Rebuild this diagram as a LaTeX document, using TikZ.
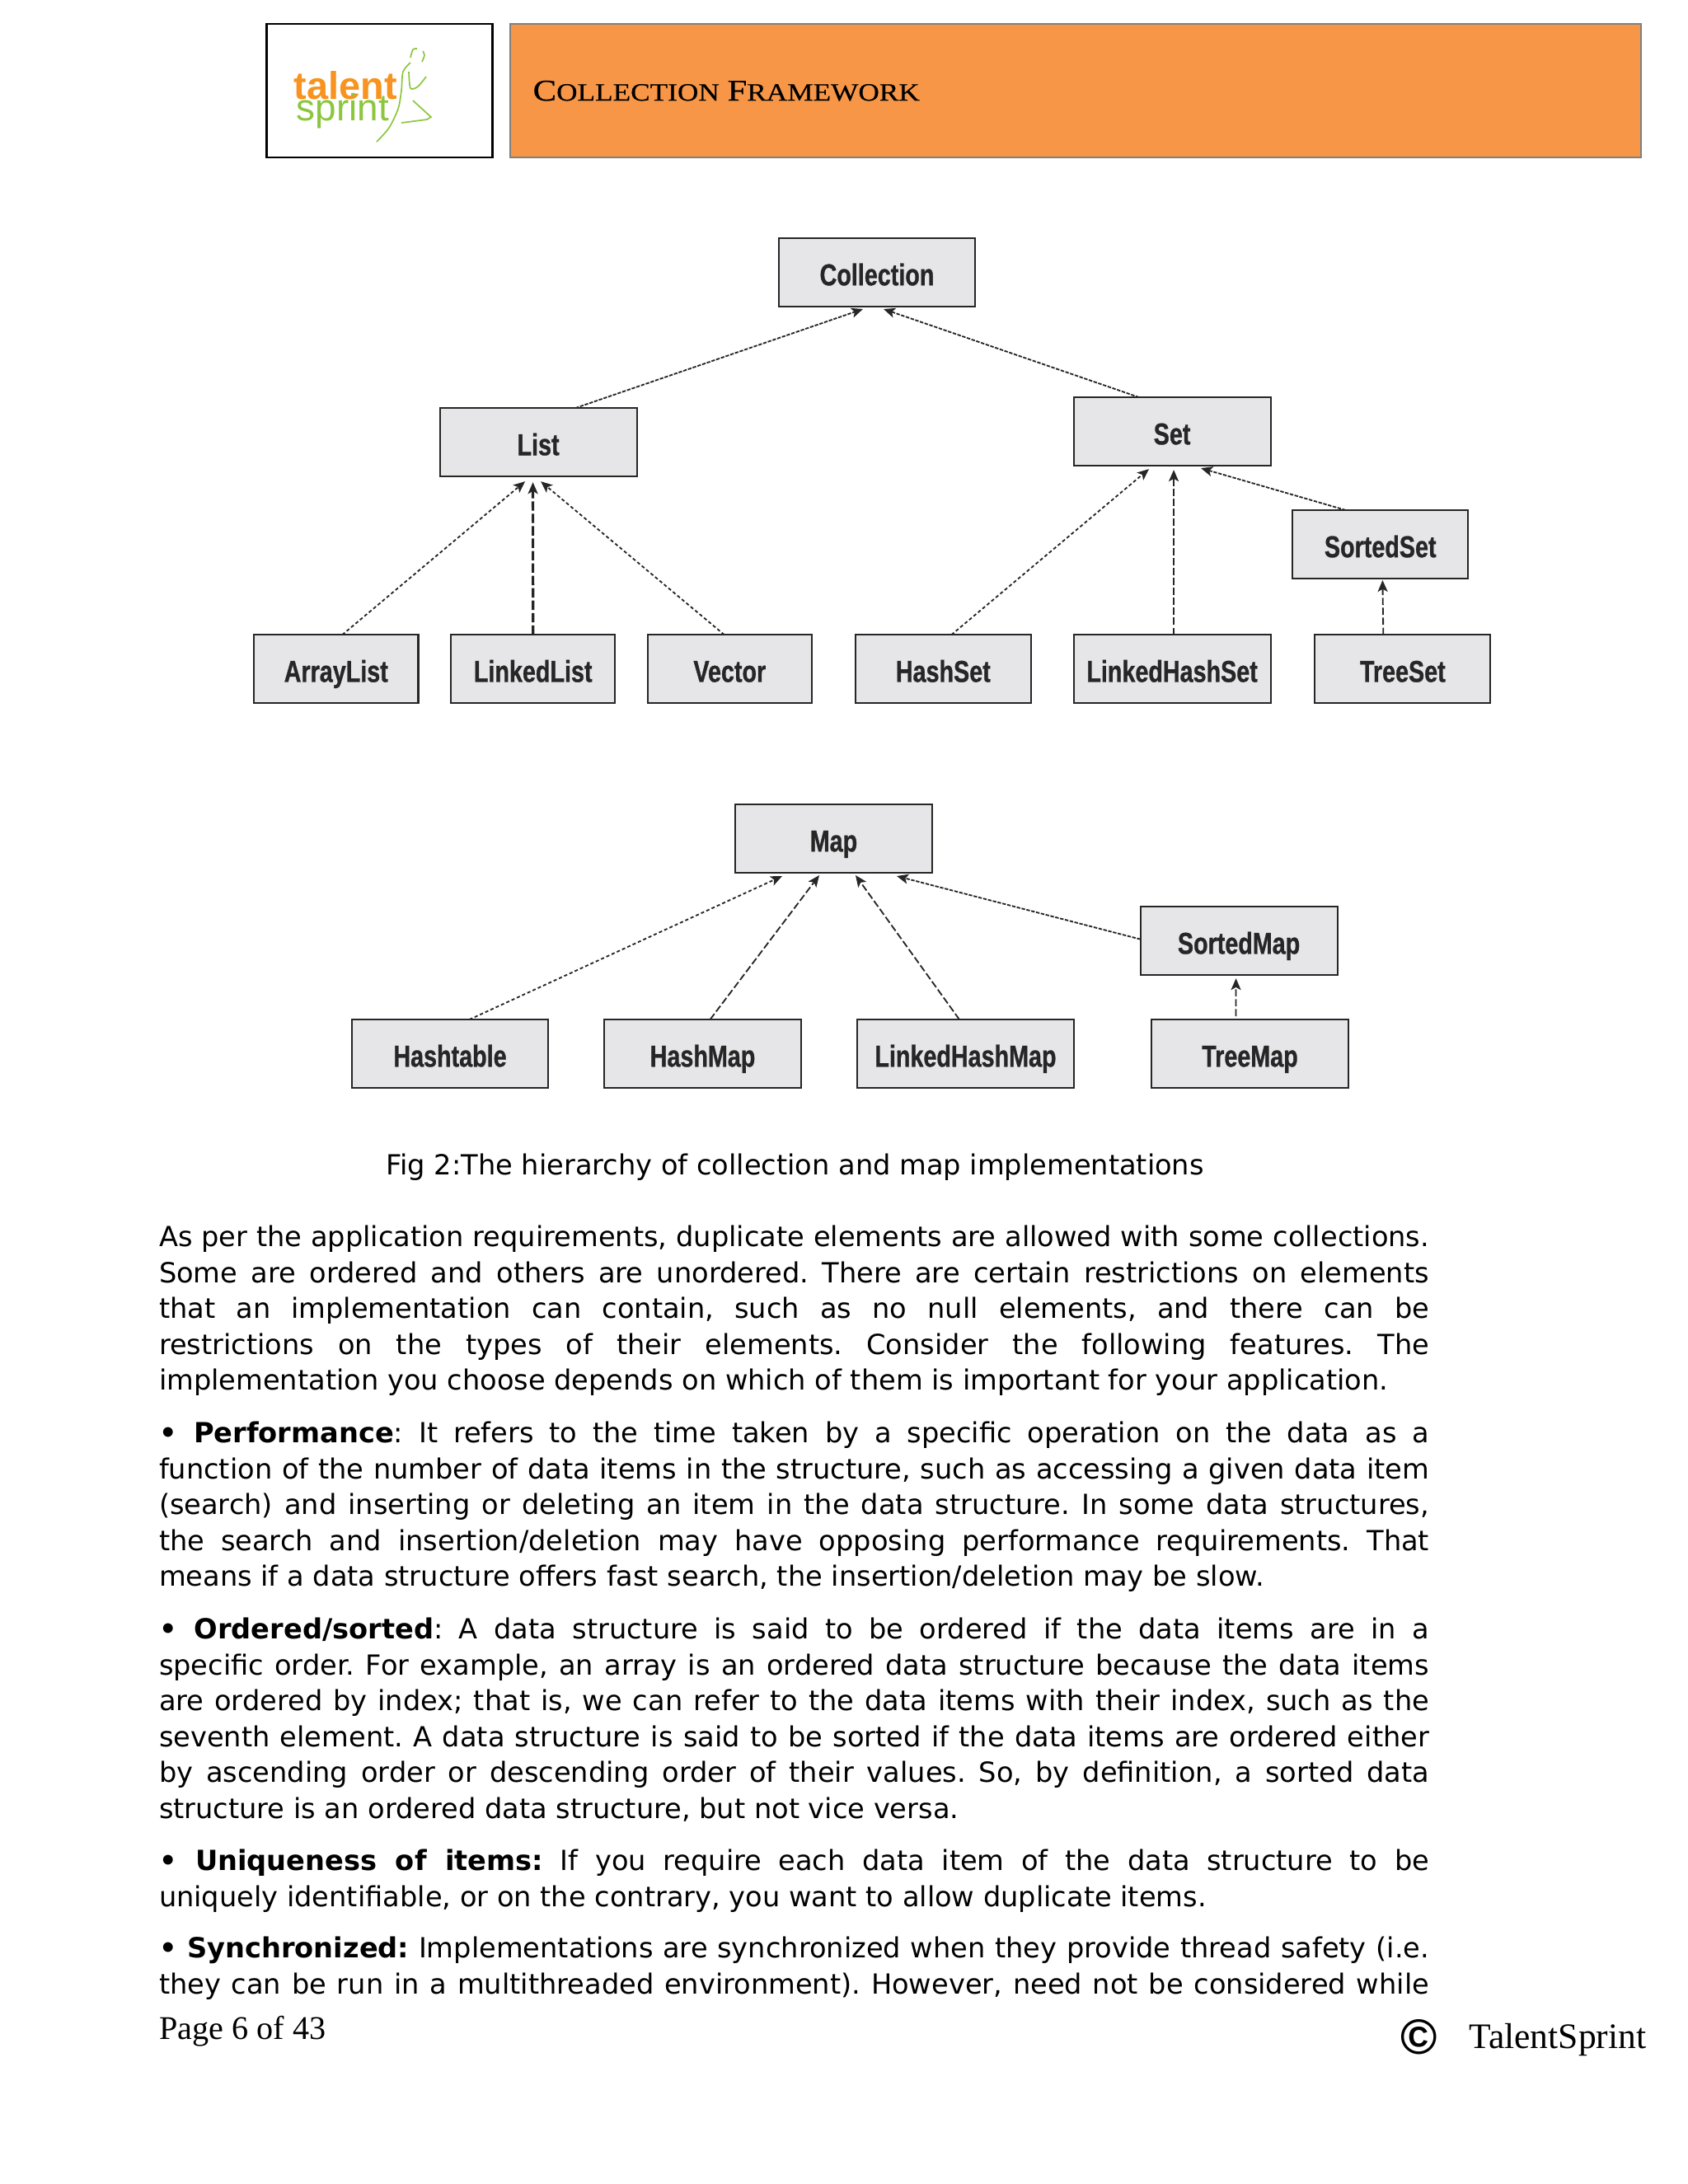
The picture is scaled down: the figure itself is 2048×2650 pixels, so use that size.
\documentclass[tikz,border=0pt]{standalone}
\usepackage{fontspec}
\usepackage{xcolor}
\usetikzlibrary{arrows.meta,positioning,calc}
\setmainfont{DejaVu Sans}
\newfontfamily\serifface{Liberation Serif}
\newfontfamily\logoface{Liberation Sans}
\newfontfamily\boxface[FakeStretch=0.78,BoldFeatures={FakeBold=0.8}]{Liberation Sans}
\newfontfamily\titleface[FakeStretch=1.17,FakeBold=0.6]{Liberation Serif}
\definecolor{headorange}{HTML}{F79646}
\definecolor{boxgrey}{HTML}{E6E5E8}
\definecolor{logoorange}{HTML}{F7931E}
\definecolor{logogreen}{HTML}{8CC63F}
\newcommand{\titlecaps}[2]{{\fontsize{10.9}{12}\selectfont #1}{\fontsize{9}{12}\selectfont #2}}
\frenchspacing

\begin{document}
\begin{tikzpicture}[
  x=0.29883pt,y=-0.29883pt,
  cls/.style={draw=black!85,line width=0.6pt,fill=boxgrey,minimum height=24.8pt,inner sep=0pt,outer sep=0pt,text height=11pt,text depth=1.6pt,font=\boxface\bfseries\fontsize{11}{12}\selectfont,text=black!85},
  wide/.style={cls,minimum width=71.4pt},
  mid/.style={cls,minimum width=63.6pt},
  narrow/.style={cls,minimum width=59.6pt},
  para/.style={text width=460.5pt,align=justify,inner sep=0pt,outer sep=0pt,font=\fontsize{10.05}{13}\selectfont},
  arr/.style={-{Stealth[length=4.2pt,width=3.6pt,inset=1pt]},line width=0.55pt,draw=black!85,dash pattern=on 1.3pt off 0.5pt},
  dotarr/.style={arr,dash pattern=on 1.2pt off 0.9pt},
  longarr/.style={arr,dash pattern=on 2.6pt off 1pt},
  heavyarr/.style={arr,line width=0.95pt,dash pattern=on 3.4pt off 1.1pt}
]
\useasboundingbox (0,0) rectangle (2048,2650);

% header
\node[draw=black,line width=0.8pt,fill=white,minimum width=82pt,minimum height=48.4pt,inner sep=0pt] (logobox) at (460.5,110) {};
\node[draw=black!50,line width=0.7pt,fill=headorange,minimum width=409.8pt,minimum height=48.4pt,inner sep=0pt] (head) at (1305,110) {};
\node[anchor=base west,inner sep=0pt] (title) at (646,122) {\titleface\titlecaps{C}{OLLECTION} \titlecaps{F}{RAMEWORK}};
\node[anchor=base west,inner sep=0pt,text=logoorange,font=\logoface\bfseries\fontsize{14}{14}\selectfont] (talent) at (356,120) {talent};
\node[anchor=base west,inner sep=0pt,text=logogreen,font=\logoface\fontsize{13.7}{14}\selectfont] (sprint) at (359,146) {sprint};
\draw[logogreen,line width=0.5pt] plot[smooth] coordinates {(457,172) (472,155) (483,132) (487,110) (489,87) (498,76)};
\draw[logogreen,line width=0.5pt] plot[smooth] coordinates {(498,70) (501,60) (506,59)};
\draw[logogreen,line width=0.5pt] plot[smooth] coordinates {(512,75) (515,67) (513,62)};
\draw[logogreen,line width=0.5pt] plot[smooth] coordinates {(496,87) (498,107) (507,105) (517,93)};
\draw[logogreen,line width=0.5pt] (501,122) -- (523,142) -- (518,145) -- (487,149);

% collection tree
\node[wide] (collection) at (1064,330.5) {Collection};
\node[wide,below left=36.8pt and 51.4pt of collection] (list) {List};
\node[wide,below right=32.9pt and 35.6pt of collection] (set) {Set};
\node[narrow,below=57.4pt of list,xshift=-1.9pt] (linkedlist) {LinkedList};
\node[narrow,left=11.8pt of linkedlist] (arraylist) {ArrayList};
\node[narrow,right=11.7pt of linkedlist] (vector) {Vector};
\node[wide,below=61.3pt of set] (linkedhashset) {LinkedHashSet};
\node[mid,left=15.5pt of linkedhashset] (hashset) {HashSet};
\node[mid,right=16.1pt of linkedhashset] (treeset) {TreeSet};
\node[mid,below right=16.1pt and 8pt of set] (sortedset) {SortedSet};

\draw[arr] ($(list.north)+(45,0)$) -- ($(collection.south)+(-17,3)$);
\draw[arr] ($(set.north)+(-40,0)$) -- ($(collection.south)+(8,3)$);
\draw[dotarr] ($(arraylist.north)+(7.5,0)$) -- ($(list.south)+(-16,6)$);
\draw[heavyarr] (linkedlist.north) -- ($(list.south)+(-6.5,7)$);
\draw[dotarr] ($(vector.north)+(-6.5,0)$) -- ($(list.south)+(3,6)$);
\draw[dotarr] ($(hashset.north)+(10,0)$) -- ($(set.south)+(-28,4)$);
\draw[longarr] ($(linkedhashset.north)+(2,0)$) -- ($(set.south)+(2,5)$);
\draw[arr] ($(sortedset.north)+(-42,0)$) -- ($(set.south)+(35,3)$);
\draw[longarr] ($(treeset.north)+(-23.5,0)$) -- ($(sortedset.south)+(2.7,2)$);

% map tree
\node[wide] (map) at (1011.5,1017.5) {Map};
\node[wide,below right=12.3pt and 75.5pt of map] (sortedmap) {SortedMap};
\node[wide,below=16.1pt of sortedmap,xshift=4pt] (treemap) {TreeMap};
\node[cls,minimum width=78.6pt,left=28.1pt of treemap] (linkedhashmap) {LinkedHashMap};
\node[wide,left=20.3pt of linkedhashmap] (hashmap) {HashMap};
\node[wide,left=20.2pt of hashmap] (hashtable) {Hashtable};

\draw[dotarr] ($(hashtable.north)+(23.5,0)$) -- ($(map.south)+(-62.5,4)$);
\draw[longarr] ($(hashmap.north)+(9,0)$) -- ($(map.south)+(-17.5,3)$);
\draw[longarr] ($(linkedhashmap.north)+(-7.5,0)$) -- ($(map.south)+(26.5,3)$);
\draw[arr] ($(sortedmap.west)+(0,-2)$) -- ($(map.south)+(76.5,4)$);
\draw[longarr] ($(treemap.north)+(-17,-4)$) -- ($(sortedmap.south)+(-3.5,4)$);

\node[anchor=base west,inner sep=0pt,font=\fontsize{10.05}{13}\selectfont] (caption) at (468,1425) {Fig 2:The hierarchy of collection and map implementations};

% body text
\node[para,anchor=north west] (intro) at (193,1487) {As per the application requirements, duplicate elements are allowed with some collections.\linebreak
Some are ordered and others are unordered. There are certain restrictions on elements\linebreak
that an implementation can contain, such as no null elements, and there can be\linebreak
restrictions on the types of their elements. Consider the following features. The\linebreak
implementation you choose depends on which of them is important for your application.};
\node[para,below=9.4pt of intro] (perf) {\textbf{• Performance}: It refers to the time taken by a specific operation on the data as a\linebreak
function of the number of data items in the structure, such as accessing a given data item\linebreak
(search) and inserting or deleting an item in the data structure. In some data structures,\linebreak
the search and insertion/deletion may have opposing performance requirements. That\linebreak
means if a data structure offers fast search, the insertion/deletion may be slow.};
\node[para,below=9.4pt of perf] (ordered) {\textbf{• Ordered/sorted}: A data structure is said to be ordered if the data items are in a\linebreak
specific order. For example, an array is an ordered data structure because the data items\linebreak
are ordered by index; that is, we can refer to the data items with their index, such as the\linebreak
seventh element. A data structure is said to be sorted if the data items are ordered either\linebreak
by ascending order or descending order of their values. So, by definition, a sorted data\linebreak
structure is an ordered data structure, but not vice versa.};
\node[para,below=10.2pt of ordered] (unique) {\textbf{• Uniqueness of items:} If you require each data item of the data structure to be\linebreak
uniquely identifiable, or on the contrary, you want to allow duplicate items.};
\node[para,below=8.9pt of unique] (sync) {\textbf{• Synchronized:} Implementations are synchronized when they provide thread safety (i.e.\linebreak
\makebox[460.5pt][s]{they can be run in a multithreaded environment). However, need not be considered while}};

% footer
\node[anchor=base west,inner sep=0pt,font=\serifface\fontsize{12}{14}\selectfont] (pageno) at (193,2474) {Page 6 of 43};
\node[anchor=base west,inner sep=0pt,font=\serifface\fontsize{13}{14}\selectfont] (owner) at (1782,2485) {TalentSprint};
\node[left=18pt of owner.base west,anchor=center,inner sep=0pt,yshift=4pt,font=\logoface\bfseries\fontsize{18}{18}\selectfont] (copymark) {©};
\end{tikzpicture}
\end{document}
